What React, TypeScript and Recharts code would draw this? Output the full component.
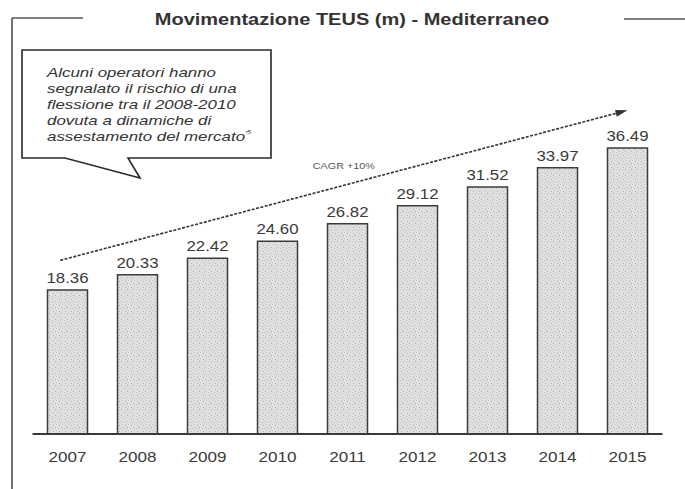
import React from 'react';
import { BarChart, Bar, XAxis, YAxis, LabelList, ReferenceLine } from 'recharts';

// anni e movimentazione TEUS (milioni)
const years = ['2007', '2008', '2009', '2010', '2011', '2012', '2013', '2014', '2015'];
const teus = [18.36, 20.33, 22.42, 24.6, 26.82, 29.12, 31.52, 33.97, 36.49];

// freccia di tendenza (inizio / fine, in milioni)
const trendYears = ['2007', '2015'];
const trendValues = [22.4, 41.3];
const trendLabel = 'CAGR +10%';

const calloutLines = [
	'Alcuni operatori hanno',
	'segnalato il rischio di una',
	'flessione tra il 2008-2010',
	'dovuta a dinamiche di',
	'assestamento del mercato',
];

const data = years.map((year, i) => ({ year, value: teus[i] }));

const FONT = '"Liberation Sans", Arial, Helvetica, sans-serif';
const INK = '#3a3a3a';

// la scansione è allargata in orizzontale: stiro i testi
const YearTick = (props: any) => {
	const { x, y, payload } = props;
	return (
		<g transform={`translate(${x},${y}) scale(1.22,1)`}>
			<text x={0} y={0} dy={28} textAnchor='middle' fontFamily={FONT} fontSize={14} fill={INK}>
				{payload.value}
			</text>
		</g>
	);
};

const ValueLabel = (props: any) => {
	const { x, y, width, value } = props;
	return (
		<g transform={`translate(${x + width / 2},${y - 7}) scale(1.2,1)`}>
			<text x={0} y={0} textAnchor='middle' fontFamily={FONT} fontSize={14} fill={INK}>
				{Number(value).toFixed(2)}
			</text>
		</g>
	);
};

const TrendArrow = (props: any) => {
	const { x1, y1, x2, y2 } = props;
	const len = Math.hypot(x2 - x1, y2 - y1);
	const ux = (x2 - x1) / len;
	const uy = (y2 - y1) / len;
	// parte un po' prima del centro della prima barra
	const sx = x1 - ux * 7.5;
	const sy = y1 - uy * 7.5;
	const head = 12;
	const half = 3.5;
	const bx = x2 - ux * head;
	const by = y2 - uy * head;
	const mx = (sx + x2) / 2;
	const my = (sy + y2) / 2;
	return (
		<g>
			<line x1={sx} y1={sy} x2={bx} y2={by} stroke='#333' strokeWidth={1.6} strokeDasharray='3 1.5' />
			<polygon
				points={`${x2},${y2} ${bx - uy * half},${by + ux * half} ${bx + uy * half},${by - ux * half}`}
				fill='#333'
			/>
			<g transform={`translate(${mx},${my - 16}) scale(1.2,1)`}>
				<text x={0} y={0} textAnchor='middle' fontFamily={FONT} fontSize={9} fill='#555'>
					{trendLabel}
				</text>
			</g>
		</g>
	);
};

export default function App() {
	return (
		<div style={{ position: 'absolute', left: 0, top: 0, width: 685, height: 489, background: '#fff' }}>
			<BarChart width={685} height={489} data={data} margin={{ top: 81.3, right: 22.5, bottom: 25, left: 32.5 }}>
				<defs>
					<pattern id='grana' width='6' height='6' patternUnits='userSpaceOnUse'>
						<rect width='6' height='6' fill='#e0e0e0' />
						<rect x='1' y='1' width='1' height='1' fill='#acacac' />
						<rect x='4' y='2' width='1' height='1' fill='#bababa' />
						<rect x='2' y='4' width='1' height='1' fill='#c4c4c4' />
						<rect x='5' y='5' width='1' height='1' fill='#b0b0b0' />
						<rect x='0' y='3' width='1' height='1' fill='#d0d0d0' />
					</pattern>
				</defs>
				<XAxis
					dataKey='year'
					height={30}
					axisLine={{ stroke: '#3a3a3a', strokeWidth: 2 }}
					tickLine={false}
					tickSize={0}
					tickMargin={0}
					tick={<YearTick />}
					interval={0}
				/>
				<YAxis hide domain={[0, 45]} />
				<Bar dataKey='value' barSize={40} fill='url(#grana)' stroke='#3c3c3c' strokeWidth={1.5} isAnimationActive={false}>
					<LabelList dataKey='value' content={<ValueLabel />} />
				</Bar>
				<ReferenceLine
					segment={[
						{ x: trendYears[0], y: trendValues[0] },
						{ x: trendYears[1], y: trendValues[1] },
					]}
					shape={TrendArrow}
				/>
			</BarChart>

			<svg width={685} height={489} style={{ position: 'absolute', left: 0, top: 0, pointerEvents: 'none' }}>
				{/* cornice */}
				<line x1={12} y1={18} x2={12} y2={489} stroke='#444' strokeWidth={1.5} />
				<line x1={12} y1={18} x2={83} y2={18} stroke='#555' strokeWidth={1.5} />
				<line x1={624} y1={19} x2={685} y2={19} stroke='#555' strokeWidth={1.5} />
				<g transform='translate(352,25) scale(1.25,1)'>
					<text x={0} y={0} textAnchor='middle' fontFamily={FONT} fontWeight='bold' fontSize={16} fill='#333'>
						Movimentazione TEUS (m) - Mediterraneo
					</text>
				</g>

				{/* fumetto */}
				<path d='M22 50 H271 V158 H128 L140 178 L65 158 H22 Z' fill='#fff' stroke='#2a2a2a' strokeWidth={1.6} />
				<g transform='translate(47,0) scale(1.3,1)'>
					{calloutLines.map((line, i) => (
						<text key={i} x={0} y={77 + i * 16} fontFamily={FONT} fontStyle='italic' fontSize={13} fill='#333'>
							{line}
							{i === calloutLines.length - 1 && (
								<tspan fontSize={8} dy={-5}>
									'⁵
								</tspan>
							)}
						</text>
					))}
				</g>
			</svg>
		</div>
	);
}
